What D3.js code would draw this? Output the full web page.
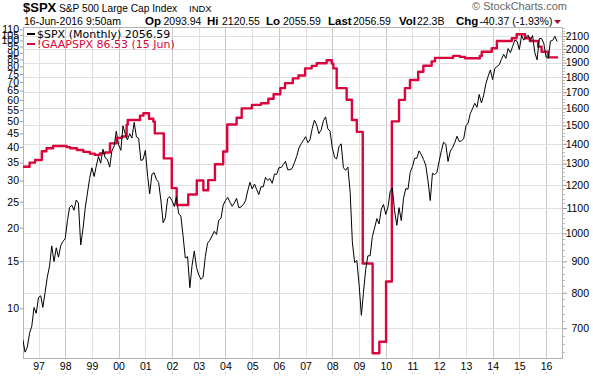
<!DOCTYPE html>
<html lang="en">
<head>
<meta charset="UTF-8">
<title>$SPX vs !GAAPSPX</title>
<style>
    html,body{
        margin:0;
        background:#fff;
        overflow:hidden;
    }
    text{ font-family: "Liberation Sans", Arial, sans-serif; }
</style>
</head>
<body>
<svg id="svg"></svg>
<script src="https://d3js.org/d3.v7.min.js"></script>
<script>
// $SPX monthly closes, first value is June 1996
const spxStart = "1996-06-01";
const spxClose = [
    670.6, 640.0, 652.0, 687.3, 705.3, 757.0, 740.7,
    786.2, 790.8, 757.1, 801.3, 848.3, 885.1, 954.3, 899.5, 947.3, 914.6, 955.4, 970.4,
    980.3, 1049.3, 1101.8, 1111.8, 1090.8, 1133.8, 1120.7, 957.3, 1017.0, 1098.7, 1163.6, 1229.2,
    1279.6, 1238.3, 1286.4, 1335.2, 1301.8, 1372.7, 1328.7, 1320.4, 1282.7, 1362.9, 1388.9, 1469.3,
    1394.5, 1366.4, 1498.6, 1452.4, 1420.6, 1454.6, 1430.8, 1517.7, 1436.5, 1429.4, 1315.0, 1320.3,
    1366.0, 1239.9, 1160.3, 1249.5, 1255.8, 1224.4, 1211.2, 1133.6, 1040.9, 1059.8, 1139.5, 1148.1,
    1130.2, 1106.7, 1147.4, 1076.9, 1067.1, 989.8, 911.6, 916.1, 815.3, 885.8, 936.3, 879.8,
    855.7, 841.2, 848.2, 916.9, 963.6, 974.5, 990.3, 1008.0, 996.0, 1050.7, 1058.2, 1111.9,
    1131.1, 1144.9, 1126.2, 1107.3, 1120.7, 1140.8, 1101.7, 1104.2, 1114.6, 1130.2, 1173.8, 1211.9,
    1181.3, 1203.6, 1180.6, 1156.9, 1191.5, 1191.3, 1234.2, 1220.3, 1228.8, 1207.0, 1249.5, 1248.3,
    1280.1, 1280.7, 1294.8, 1310.6, 1270.1, 1270.2, 1276.7, 1303.8, 1335.9, 1377.9, 1400.6, 1418.3,
    1438.2, 1406.8, 1420.9, 1482.4, 1530.6, 1503.4, 1455.3, 1474.0, 1526.8, 1549.4, 1481.1, 1468.4,
    1378.6, 1330.6, 1322.7, 1385.6, 1400.4, 1280.0, 1267.4, 1282.8, 1166.4, 968.8, 896.2, 903.3,
    825.9, 735.1, 797.9, 872.8, 919.1, 919.3, 987.5, 1020.6, 1057.1, 1036.2, 1095.6, 1115.1,
    1073.9, 1104.5, 1169.4, 1186.7, 1089.4, 1030.7, 1101.6, 1049.3, 1141.2, 1183.3, 1180.6, 1257.6,
    1286.1, 1327.2, 1325.8, 1363.6, 1345.2, 1320.6, 1292.3, 1218.9, 1131.4, 1253.3, 1247.0, 1257.6,
    1312.4, 1365.7, 1408.5, 1397.9, 1310.3, 1362.2, 1379.3, 1406.6, 1440.7, 1412.2, 1416.2, 1426.2,
    1498.1, 1514.7, 1569.2, 1597.6, 1630.7, 1606.3, 1685.7, 1633.0, 1681.6, 1756.5, 1805.8, 1848.4,
    1782.6, 1859.5, 1872.3, 1884.0, 1923.6, 1960.2, 1930.7, 2003.4, 1972.3, 2018.1, 2067.6, 2058.9,
    1995.0, 2104.5, 2067.9, 2085.5, 2107.4, 2063.1, 2103.8, 1972.2, 1920.0, 2079.4, 2080.4, 2043.9,
    1940.2, 1932.2, 2059.7, 2065.3, 2097.0, 2056.6
];

// !GAAPSPX step values (date the value took effect)
const epsDates = [
    "1996-06-01", "1996-09-01", "1996-11-15", "1997-02-15", "1997-04-20", "1997-07-20",
    "1998-01-20", "1998-03-10", "1998-06-10", "1998-09-05", "1998-12-05", "1999-02-10",
    "1999-04-20", "1999-07-01", "1999-09-05", "1999-12-05", "2000-02-15", "2000-04-20",
    "2000-05-05", "2000-10-20", "2000-12-05", "2001-02-20", "2001-04-20", "2001-05-10",
    "2001-09-10", "2001-12-28", "2002-03-05", "2002-08-10", "2002-12-05", "2003-03-05",
    "2003-05-10", "2003-08-10", "2003-12-01", "2004-01-25", "2004-06-01", "2004-08-10",
    "2004-12-28", "2005-05-01", "2005-08-10", "2005-10-20", "2006-01-20", "2006-03-25",
    "2006-07-10", "2006-09-25", "2006-12-25", "2007-03-25", "2007-06-01", "2007-10-15",
    "2007-12-25", "2008-01-15", "2008-03-01", "2008-07-15", "2008-09-25", "2008-12-01",
    "2009-02-20", "2009-07-05", "2009-10-05", "2010-01-05", "2010-03-25", "2010-07-01",
    "2010-09-20", "2010-11-28", "2011-03-20", "2011-05-30", "2011-09-20", "2011-11-05",
    "2012-07-10", "2012-10-10", "2012-12-20", "2013-07-10", "2013-08-05", "2013-12-20",
    "2014-02-28", "2014-09-20", "2014-11-25", "2015-03-20", "2015-05-25", "2015-09-15",
    "2015-11-01", "2016-02-01", "2016-06-15"
];
const epsValues = [
    33.8, 35.0, 35.8, 38.6, 39.6, 40.4,
    40.0, 39.6, 39.0, 38.4, 37.8, 37.4,
    37.9, 38.2, 41.3, 43.3, 43.8, 48.5,
    50.5, 52.4, 53.5, 51.0, 49.8, 45.0,
    36.3, 28.1, 24.3, 26.6, 30.0, 27.6,
    30.1, 34.5, 38.5, 48.6, 51.5, 55.8,
    57.5, 58.3, 60.6, 63.0, 66.4, 69.3,
    72.2, 74.0, 78.7, 80.4, 82.2, 84.4,
    82.0, 78.7, 66.4, 60.1, 50.5, 45.6,
    14.7, 6.8, 7.5, 12.6, 49.9, 60.0,
    66.4, 71.2, 76.4, 80.5, 83.6, 86.1,
    87.6, 86.9, 85.9, 87.6, 90.8, 93.5,
    99.6, 101.9, 105.5, 101.9, 99.6, 94.9,
    90.8, 86.53, 86.53
];

const leftTicks = [10, 15, 20, 25, 30, 35, 40, 45, 50, 55, 60, 65, 70, 75, 80, 85, 90, 95, 100, 105, 110];
const rightTicks = [700, 800, 900, 1000, 1100, 1200, 1300, 1400, 1500, 1600, 1700, 1800, 1900, 2000, 2100];
const yearLabels = ["97", "98", "99", "00", "01", "02", "03", "04", "05", "06",
                    "07", "08", "09", "10", "11", "12", "13", "14", "15", "16"];

const width = 593, height = 380;
const plot = { left: 23, right: 563, top: 27, bottom: 359 };
const red = "#d9063e";

const svg = d3.select("#svg").attr("width", width).attr("height", height);

const parse = d3.utcParse("%Y-%m-%d");
const spxData = spxClose.map((v, i) => ({ date: d3.utcMonth.offset(parse(spxStart), i), value: v }));
const epsData = epsDates.map((d, i) => ({ date: parse(d), value: epsValues[i] }));

const x = d3.scaleUtc()
    .domain([parse("1996-06-03"), parse("2016-08-20")])
    .range([plot.left, plot.right]);
const yLeft = d3.scaleLog().domain([6.47, 112.3]).range([plot.bottom, plot.top]);
const yRight = d3.scaleLog().domain([623.7, 2172]).range([plot.bottom, plot.top]);

svg.append("clipPath").attr("id", "clip")
    .append("rect")
    .attr("x", plot.left).attr("y", plot.top)
    .attr("width", plot.right - plot.left).attr("height", plot.bottom - plot.top);

// grid
const years = yearLabels.map((s, i) => Date.UTC(1997 + i, 0, 1));
svg.append("g").selectAll("line").data(years).join("line")
    .attr("x1", d => Math.round(x(d)) + 0.5).attr("x2", d => Math.round(x(d)) + 0.5)
    .attr("y1", plot.top).attr("y2", plot.bottom)
    .attr("stroke", (d, i) => i % 2 ? "#c8c8c8" : "#e0e0e0")
    .attr("stroke-width", 1);

svg.append("g").selectAll("line").data(rightTicks).join("line")
    .attr("x1", plot.left).attr("x2", plot.right)
    .attr("y1", d => Math.round(yRight(d)) + 0.5).attr("y2", d => Math.round(yRight(d)) + 0.5)
    .attr("stroke", "#e0e0e0");

// frame
svg.append("rect")
    .attr("x", plot.left + 0.5).attr("y", plot.top + 0.5)
    .attr("width", plot.right - plot.left - 1).attr("height", plot.bottom - plot.top - 1)
    .attr("fill", "none").attr("stroke", "#b4b4b4");

// left axis
const leftAxis = svg.append("g").attr("transform", `translate(${plot.left},0)`)
    .call(d3.axisLeft(yLeft).tickValues(leftTicks).tickFormat(d3.format("d")).tickSize(3).tickPadding(1));
leftAxis.select(".domain").remove();
leftAxis.selectAll("line").attr("stroke", "#999");
leftAxis.selectAll("text").attr("font-size", 10.5).attr("fill", "#000");

// right axis
const rightAxis = svg.append("g").attr("transform", `translate(${plot.right},0)`)
    .call(d3.axisRight(yRight).tickValues(rightTicks).tickFormat(d3.format("d")).tickSize(4).tickPadding(2));
rightAxis.select(".domain").remove();
rightAxis.selectAll("line").attr("stroke", "#999");
rightAxis.selectAll("text").attr("font-size", 10.5).attr("fill", "#000")
    .attr("text-anchor", "end")
    .attr("x", 589 - plot.right);
svg.append("g").selectAll("line")
    .data(d3.range(640, 2170, 20).filter(v => v % 100))
    .join("line")
    .attr("x1", plot.right).attr("x2", plot.right + 2)
    .attr("y1", d => Math.round(yRight(d)) + 0.5).attr("y2", d => Math.round(yRight(d)) + 0.5)
    .attr("stroke", "#bbb");

// bottom axis
const bottomAxis = svg.append("g").attr("transform", `translate(0,${plot.bottom})`)
    .call(d3.axisBottom(x).tickValues(years).tickFormat((d, i) => yearLabels[i]).tickSize(0).tickPadding(4));
bottomAxis.select(".domain").remove();
bottomAxis.selectAll("text").attr("font-size", 10.5).attr("fill", "#000");
svg.append("g").selectAll("line").data(years).join("line")
    .attr("x1", d => Math.round(x(d)) + 0.5).attr("x2", d => Math.round(x(d)) + 0.5)
    .attr("y1", 372).attr("y2", 374)
    .attr("stroke", "#ccc");

// series
const chart = svg.append("g").attr("clip-path", "url(#clip)");

chart.append("path")
    .datum(epsData)
    .attr("fill", "none")
    .attr("stroke", red)
    .attr("stroke-width", 2.4)
    .attr("stroke-linejoin", "round")
    .attr("d", d3.line().x(d => x(d.date)).y(d => yLeft(d.value)).curve(d3.curveStepAfter));

chart.append("path")
    .datum(spxData)
    .attr("fill", "none")
    .attr("stroke", "#000")
    .attr("stroke-width", 1)
    .attr("d", d3.line().x(d => x(d.date)).y(d => yRight(d.value)));

// legend
const legend = svg.append("g");
[
    { label: "$SPX (Monthly) 2056.59", color: "#000", y: 34 },
    { label: "!GAAPSPX 86.53 (15 Jun)", color: red, y: 44 }
].forEach(item => {
    legend.append("line")
        .attr("x1", 27).attr("x2", 35).attr("y1", item.y).attr("y2", item.y)
        .attr("stroke", item.color).attr("stroke-width", 2);
    legend.append("text")
        .attr("x", 37).attr("y", item.y + 3.5)
        .style("font-family", "'DejaVu Sans', Verdana, sans-serif")
        .style("font-size", "11px")
        .attr("fill", item.color)
        .text(item.label);
});

// header
svg.append("text").attr("x", 23).attr("y", 12)
    .attr("font-size", 13).attr("font-weight", "bold").text("$SPX");
svg.append("text").attr("x", 59).attr("y", 12)
    .attr("font-size", 10.2).text("S&P 500 Large Cap Index");
svg.append("text").attr("x", 189).attr("y", 12)
    .attr("font-size", 9.5).text("INDX");
svg.append("text").attr("x", 472).attr("y", 10)
    .attr("font-size", 11).attr("fill", "#666").text("\u00a9 StockCharts.com");
svg.append("text").attr("x", 24).attr("y", 25)
    .attr("font-size", 10.5).text("16-Jun-2016 9:50am");

const quote = [
    { key: "Op", kx: 145, val: "2093.94", vx: 163.5 },
    { key: "Hi", kx: 207, val: "2120.55", vx: 222 },
    { key: "Lo", kx: 266, val: "2055.59", vx: 283 },
    { key: "Last", kx: 328, val: "2056.59", vx: 353 },
    { key: "Vol", kx: 399, val: "22.3B", vx: 417 },
    { key: "Chg", kx: 456, val: "-40.37 (-1.93%)", vx: 479.5 }
];
quote.forEach(q => {
    svg.append("text").attr("x", q.kx).attr("y", 25)
        .attr("font-size", 11.5).attr("font-weight", "bold").text(q.key);
    svg.append("text").attr("x", q.vx).attr("y", 25)
        .attr("font-size", 10.5).text(q.val);
});
svg.append("path")
    .attr("d", "M554,20 L561,20 L557.5,24 Z")
    .attr("fill", "#a0102a");
</script>
</body>
</html>
